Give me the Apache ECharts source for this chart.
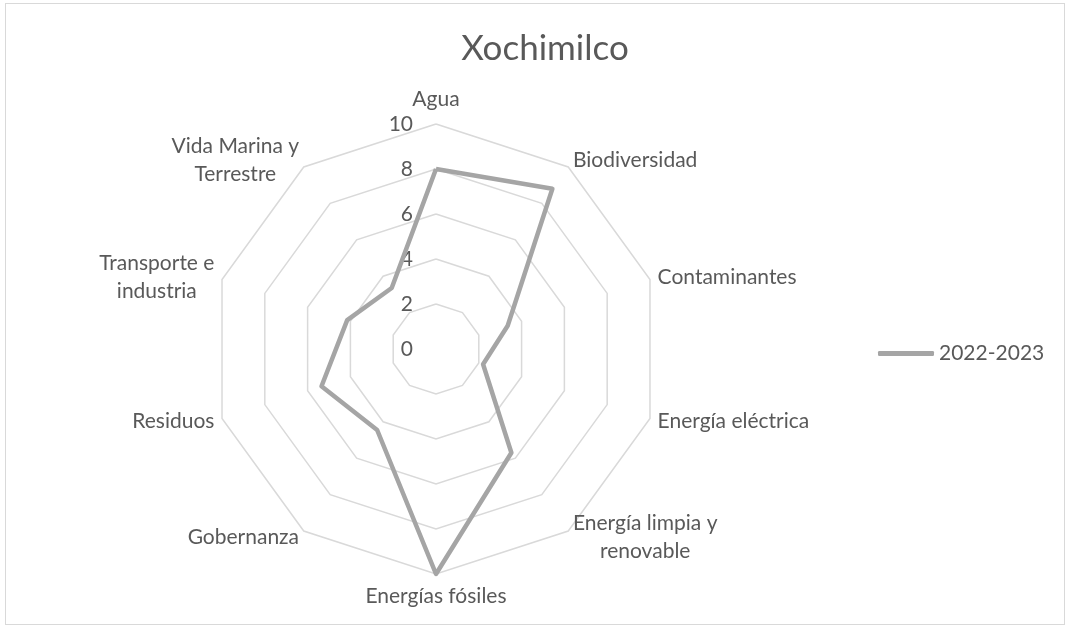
<!DOCTYPE html>
<html>
<head>
<meta charset="utf-8">
<title>Xochimilco</title>
<script src="https://cdn.jsdelivr.net/npm/echarts@6/dist/echarts.min.js"></script>
<style>
  html, body { margin: 0; padding: 0; background: #ffffff; }
  #frame {
    position: absolute; left: 5px; top: 3px;
    width: 1058px; height: 620px;
    border: 1.5px solid #d9d9d9;
  }
  #main { position: absolute; left: 0; top: 0; width: 1071px; height: 629px; }
</style>
</head>
<body>
<div id="frame"></div>
<div id="main"></div>
<script>
// ejes del radar (en sentido horario desde arriba)
var categorias = ['Agua', 'Biodiversidad', 'Contaminantes', 'Energía eléctrica',
  'Energía limpia y\nrenovable', 'Energías fósiles', 'Gobernanza', 'Residuos',
  'Transporte e\nindustria', 'Vida Marina y\nTerrestre'];
// valores 2022-2023
var valores = [8, 8.8, 3.35, 2.2, 5.7, 10, 4.45, 5.35, 4.15, 3.35];
var serieNombre = '2022-2023';
var maximo = 10;

var fuente = 'Lato';
var gris = '#595959';

// echarts dibuja el radar en sentido antihorario: se invierte el orden (Agua queda arriba)
function horario(arr) {
  return [arr[0]].concat(arr.slice(1).reverse());
}

var chartDom = document.getElementById('main');
var myChart = echarts.init(chartDom);
var option;

option = {
  animation: false,
  title: {
    text: 'Xochimilco',
    left: 540,
    top: 26,
    textAlign: 'center',
    textStyle: { fontFamily: fuente, fontSize: 35, fontWeight: 'normal', color: gris }
  },
  legend: {
    data: [serieNombre],
    left: 873,
    top: 338,
    icon: 'roundRect',
    itemWidth: 56,
    itemHeight: 5,
    textStyle: { fontFamily: fuente, fontSize: 21, color: gris }
  },
  radar: {
    center: [436, 349],
    radius: 225,
    startAngle: 90,
    shape: 'polygon',
    splitNumber: 5,
    nameGap: 8,
    axisName: {
      fontFamily: fuente, fontSize: 21, color: gris, lineHeight: 28,
      // cada línea centrada como en el original
      formatter: function (name) {
        return name.split('\n').map(function (l) { return '{c|' + l + '}'; }).join('\n');
      },
      rich: {
        c: { align: 'center', fontFamily: fuente, fontSize: 21, color: gris, lineHeight: 28 }
      }
    },
    axisLine: { show: false },
    axisTick: { show: false },
    splitArea: { show: false },
    splitLine: { lineStyle: { color: '#d9d9d9', width: 1.5 } },
    axisLabel: { show: false },
    indicator: horario(categorias).map(function (c, i) {
      var ind = { name: c, min: 0, max: maximo };
      if (i === 0) {
        ind.axisLabel = { show: true, fontFamily: fuente, fontSize: 21, color: gris, margin: 23 };
      }
      return ind;
    })
  },
  series: [{
    name: serieNombre,
    type: 'radar',
    symbol: 'none',
    lineStyle: { color: '#a5a5a5', width: 4.5 },
    itemStyle: { color: '#a5a5a5' },
    data: [{ value: horario(valores), name: serieNombre }]
  }]
};

option && myChart.setOption(option);
</script>
</body>
</html>
